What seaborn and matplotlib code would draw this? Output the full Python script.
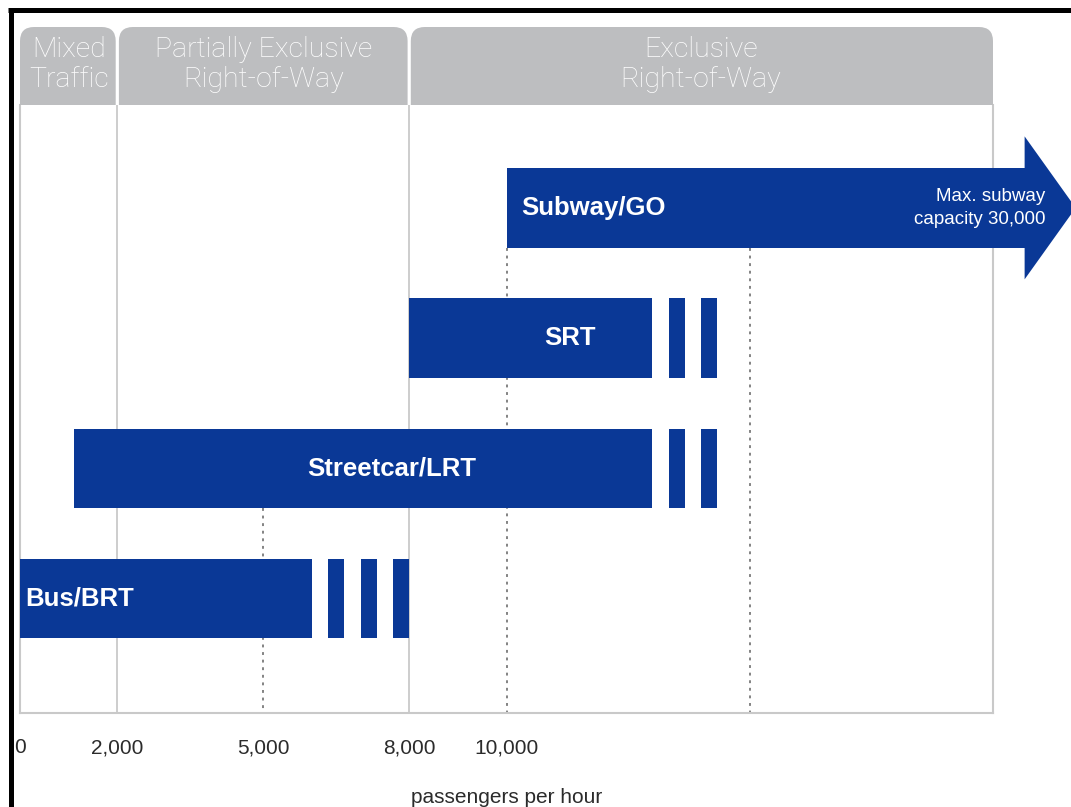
import matplotlib
matplotlib.use("Agg")
import matplotlib.pyplot as plt
from matplotlib.patches import FancyBboxPatch
from matplotlib.lines import Line2D
import seaborn as sns
import pandas as pd

# ---- data -------------------------------------------------------------
modes = ["Subway/GO", "SRT", "Streetcar/LRT", "Bus/BRT"]
range_start = [10000, 8000, 1100, 0]
range_solid_end = [20000, 13000, 13000, 6000]
# broken "extension" segments beyond the solid part of each range
range_dashes = [
    [],
    [(13333, 13667), (14000, 14333)],
    [(13333, 13667), (14000, 14333)],
    [(6333, 6667), (7000, 7333), (7667, 8000)],
]
zone_edges = [0, 2000, 8000, 20000]
zone_names = ["Mixed\nTraffic", "Partially Exclusive\nRight-of-Way", "Exclusive\nRight-of-Way"]
tick_values = [0, 2000, 5000, 8000, 10000]
tick_labels = ["0", "2,000", "5,000", "8,000", "10,000"]
solid_guides = [2000, 8000]
dotted_guides = [(5000, "Streetcar/LRT"), (10000, "Subway/GO"), (15000, "Subway/GO")]
max_note = "Max. subway\ncapacity 30,000"

# ---- style ------------------------------------------------------------
BLUE = "#0a3896"
TAB_GREY = "#bdbec0"
GUIDE_GREY = "#c9c9c9"
BAR_H = 0.61
W, H = 1071, 807
X_MAX = 20000

sns.set_theme(style="white")
plt.rcParams["font.family"] = ["Liberation Sans", "DejaVu Sans"]

fig = plt.figure(figsize=(W / 100, H / 100), dpi=100)
fig.patch.set_facecolor("white")

left_px, right_px, top_px, bottom_px = 20, 993, 105, 713
ax = fig.add_axes([left_px / W, 1 - bottom_px / H,
                   (right_px - left_px) / W, (bottom_px - top_px) / H])

df = pd.DataFrame({"mode": modes, "end": range_solid_end})
sns.barplot(data=df, x="end", y="mode", order=modes, orient="h",
            color=BLUE, width=BAR_H, errorbar=None, saturation=1, ax=ax)

# turn the zero-based bars into ranges
ARROW_BASE, ARROW_TIP = 20650, 21700
for i, p in enumerate(ax.patches[:len(modes)]):
    p.set_x(range_start[i])
    p.set_width(range_solid_end[i] - range_start[i])
    p.set_edgecolor("none")
    p.set_zorder(3)

# subway bar continues out of the frame as an arrow
sub = ax.patches[0]
sub.set_width(ARROW_BASE - range_start[0])
sub.set_clip_on(False)
head_half = BAR_H * 0.9
ax.fill([ARROW_BASE, ARROW_BASE, ARROW_TIP, ARROW_BASE, ARROW_BASE],
        [-BAR_H / 2, -head_half, 0, head_half, BAR_H / 2],
        color=BLUE, lw=0, clip_on=False, zorder=3)

# broken extension pieces
for i, segs in enumerate(range_dashes):
    for s0, s1 in segs:
        ax.barh(i, s1 - s0, left=s0, height=BAR_H, color=BLUE, lw=0, zorder=3)

ax.set_xlim(0, X_MAX)
ax.set_ylim(3.88, -0.79)

# guides
for g in solid_guides:
    ax.axvline(g, color=GUIDE_GREY, lw=1.3, zorder=1)
for g, row in dotted_guides:
    r = modes.index(row)
    ax.vlines(g, r + BAR_H / 2, 3.88, color="#7a7a7a", lw=1.3,
              linestyles=(0, (1.6, 2.6)), zorder=1)

for side in ["left", "right", "bottom"]:
    ax.spines[side].set_color(GUIDE_GREY)
    ax.spines[side].set_linewidth(1.5)
ax.spines["top"].set_visible(False)

ax.set_yticks([])
ax.set_ylabel("")
ax.set_xticks(tick_values)
ax.set_xticklabels(tick_labels, fontsize=15, color="#2b2b2b")
ax.tick_params(axis="x", length=0, pad=18)
ax.set_xlabel("passengers per hour", fontsize=15, color="#2b2b2b", labelpad=22)

# bar labels
label_pos = {"Subway/GO": (10300, "left"), "SRT": (11300, "center"),
             "Streetcar/LRT": (7650, "center"), "Bus/BRT": (100, "left")}
for i, m in enumerate(modes):
    x, ha = label_pos[m]
    ax.text(x, i, m, ha=ha, va="center", color="white", fontsize=18.5,
            fontweight="bold", zorder=4)
ax.text(21080, 0.0, max_note, ha="right", va="center", color="white",
        fontsize=13.5, linespacing=1.45, zorder=4, clip_on=False)

# zone header tabs
head_top_px = 27
hax = fig.add_axes([left_px / W, 1 - top_px / H,
                    (right_px - left_px) / W, (top_px - head_top_px) / H])
hax.set_xlim(0, X_MAX)
hax.set_ylim(0, 1)
hax.axis("off")
px_per_unit = (right_px - left_px) / X_MAX
aspect = (1 / (top_px - head_top_px)) / (1 / px_per_unit)
radius_units = 14 / px_per_unit
gap = 1.6 / px_per_unit
for k, name in enumerate(zone_names):
    x0 = zone_edges[k] + (gap if k > 0 else 0)
    x1 = zone_edges[k + 1] - (gap if k < len(zone_names) - 1 else 0)
    tab = FancyBboxPatch((x0, -1), x1 - x0, 2.0,
                         boxstyle=f"round,pad=0,rounding_size={radius_units}",
                         mutation_aspect=aspect, fc=TAB_GREY, ec="none")
    hax.add_patch(tab)
    hax.text((zone_edges[k] + zone_edges[k + 1]) / 2, 0.52, name,
             ha="center", va="center", color="white", fontsize=20.5,
             family=["Roboto", "DejaVu Sans"], fontweight="light",
             linespacing=1.18)

# black frame on the top and left edges
fig.add_artist(Line2D([8 / W, 1], [1 - 9.5 / H, 1 - 9.5 / H],
                      transform=fig.transFigure, color="black", lw=3.6,
                      solid_capstyle="butt"))
fig.add_artist(Line2D([10.5 / W, 10.5 / W], [0, 1 - 7.7 / H],
                      transform=fig.transFigure, color="black", lw=3.6,
                      solid_capstyle="butt"))

fig.savefig("out.png", dpi=100, facecolor="white")
